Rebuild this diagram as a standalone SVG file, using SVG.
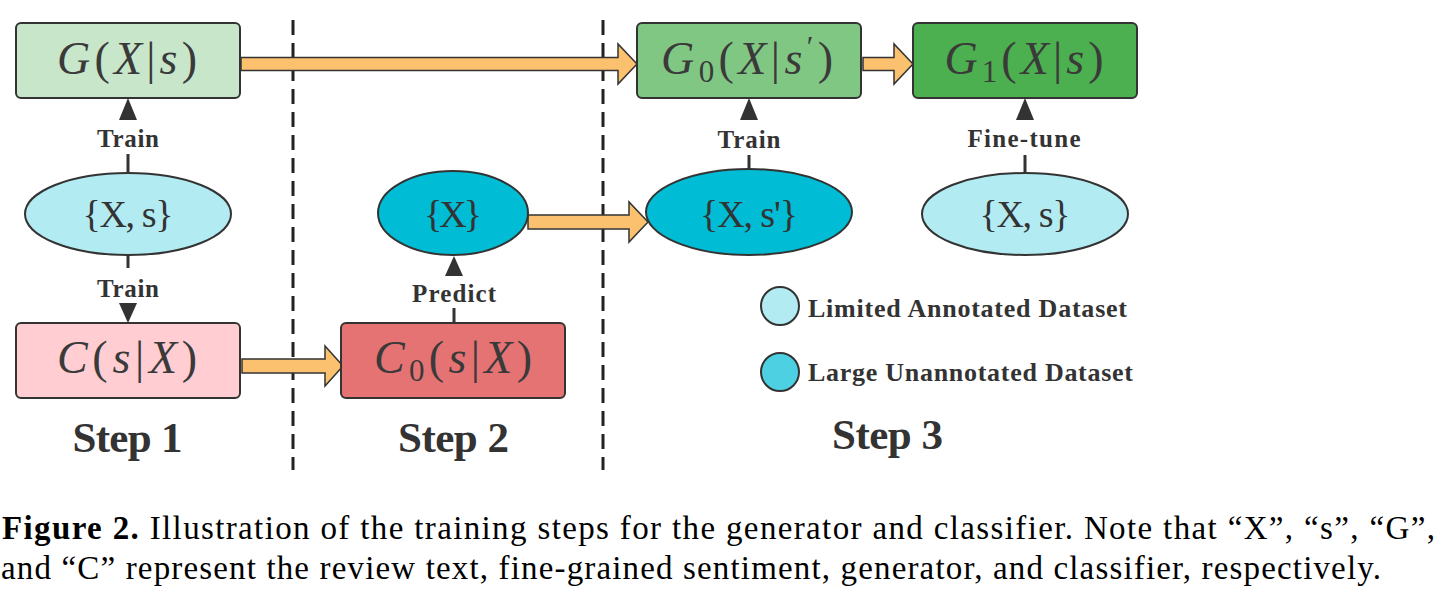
<svg xmlns="http://www.w3.org/2000/svg" width="1450" height="598" viewBox="0 0 1450 598">
<style>
.box{stroke:#333;stroke-width:2}
.ell{stroke:#333;stroke-width:2}
.math{font-family:"Liberation Serif",serif;font-size:46px;fill:#3a3a3a}
.it{font-style:italic}
.set{font-family:"Liberation Serif",serif;font-size:38px;fill:#333}
.lbl{font-family:"Liberation Serif",serif;font-size:25px;font-weight:bold;fill:#333}
.leg{font-family:"Liberation Serif",serif;font-size:26px;font-weight:bold;fill:#333}
.step{font-family:"Liberation Serif",serif;font-size:43px;font-weight:bold;fill:#333}
.cap{font-family:"Liberation Serif",serif;font-size:33px;fill:#000}
.fat{fill:#fbc16e;stroke:#333;stroke-width:1.5;stroke-linejoin:miter}
.ln{stroke:#333;stroke-width:3}
.tri{fill:#333}
.dash{stroke:#222;stroke-width:3;stroke-dasharray:15 8}
</style>
<rect width="1450" height="598" fill="#fff"/>
<g id="dividers">
<line class="dash" x1="293" y1="20" x2="293" y2="470"/>
<line class="dash" x1="603" y1="20" x2="603" y2="470"/>
</g>
<g id="connectors">
<path class="fat" d="M241,57.5 H618 V44 L637,64 L618,84 V70.5 H241 Z"/>
<path class="fat" d="M863,57.5 H894 V44 L913,64 L894,84 V70.5 H863 Z"/>
<path class="fat" d="M242,359 H325 V346 L343,366 L325,386 V373 H242 Z"/>
<path class="fat" d="M528,215 H629 V202 L648,222 L629,242 V229 H528 Z"/>
<line class="ln" x1="128" y1="172" x2="128" y2="154"/>
<polygon class="tri" points="128,98 119,120 137,120"/>
<line class="ln" x1="128" y1="255" x2="128" y2="268"/>
<polygon class="tri" points="128,323 119,303 137,303"/>
<line class="ln" x1="454" y1="323" x2="454" y2="308"/>
<polygon class="tri" points="454,256 445,276 463,276"/>
<line class="ln" x1="749" y1="169" x2="749" y2="155"/>
<polygon class="tri" points="749,98 740,120 758,120"/>
<line class="ln" x1="1025" y1="173" x2="1025" y2="155"/>
<polygon class="tri" points="1025,98 1016,120 1034,120"/>
<text class="lbl" x="128" y="147" text-anchor="middle" textLength="62" lengthAdjust="spacing">Train</text>
<text class="lbl" x="128" y="297" text-anchor="middle" textLength="62" lengthAdjust="spacing">Train</text>
<text class="lbl" x="454" y="302" text-anchor="middle" textLength="84" lengthAdjust="spacing">Predict</text>
<text class="lbl" x="749" y="148" text-anchor="middle" textLength="63" lengthAdjust="spacing">Train</text>
<text class="lbl" x="1024" y="147" text-anchor="middle" textLength="113" lengthAdjust="spacing">Fine-tune</text>
</g>
<g id="G">
<rect class="box" x="16" y="23" width="224" height="75" rx="5" fill="#c8e6c9"/>
<text class="math" x="127" y="74" text-anchor="middle" textLength="140" lengthAdjust="spacing"><tspan class="it">G</tspan>(<tspan class="it">X</tspan>|<tspan class="it">s</tspan>)</text>
</g>
<g id="G0">
<rect class="box" x="637" y="23" width="224" height="75" rx="5" fill="#81c784"/>
<text class="math" x="747" y="74" text-anchor="middle" textLength="172" lengthAdjust="spacing"><tspan class="it">G</tspan><tspan font-size="31" dy="8">0</tspan><tspan dy="-8">(</tspan><tspan class="it">X</tspan>|<tspan class="it">s</tspan><tspan font-size="30" dy="-18">′</tspan><tspan dy="18">)</tspan></text>
</g>
<g id="G1">
<rect class="box" x="913" y="23" width="224" height="75" rx="5" fill="#4caf50"/>
<text class="math" x="1024" y="74" text-anchor="middle" textLength="159" lengthAdjust="spacing"><tspan class="it">G</tspan><tspan font-size="31" dy="8">1</tspan><tspan dy="-8">(</tspan><tspan class="it">X</tspan>|<tspan class="it">s</tspan>)</text>
</g>
<g id="C">
<rect class="box" x="16" y="323" width="224" height="75" rx="5" fill="#ffcdd2"/>
<text class="math" x="127" y="373" text-anchor="middle" textLength="140" lengthAdjust="spacing"><tspan class="it">C</tspan>(<tspan class="it">s</tspan>|<tspan class="it">X</tspan>)</text>
</g>
<g id="C0">
<rect class="box" x="341" y="323" width="224" height="75" rx="5" fill="#e57373"/>
<text class="math" x="453" y="373" text-anchor="middle" textLength="158" lengthAdjust="spacing"><tspan class="it">C</tspan><tspan font-size="31" dy="8">0</tspan><tspan dy="-8">(</tspan><tspan class="it">s</tspan>|<tspan class="it">X</tspan>)</text>
</g>
<g id="D1">
<ellipse class="ell" cx="128" cy="214" rx="103" ry="41" fill="#b2ebf2"/>
<text class="set" x="128" y="227" text-anchor="middle" textLength="91" lengthAdjust="spacing">{X, s}</text>
</g>
<g id="DX">
<ellipse class="ell" cx="453" cy="213" rx="75" ry="42" fill="#00bcd4"/>
<text class="set" x="453" y="227" text-anchor="middle" textLength="58" lengthAdjust="spacing">{X}</text>
</g>
<g id="DXs2">
<ellipse class="ell" cx="749" cy="212" rx="103" ry="43" fill="#00bcd4"/>
<text class="set" x="749" y="227" text-anchor="middle" textLength="98" lengthAdjust="spacing">{X, s'}</text>
</g>
<g id="D3">
<ellipse class="ell" cx="1025" cy="214" rx="103" ry="41" fill="#b2ebf2"/>
<text class="set" x="1025" y="227" text-anchor="middle" textLength="91" lengthAdjust="spacing">{X, s}</text>
</g>
<g id="legend">
<circle class="ell" cx="780" cy="306" r="19" fill="#b2ebf2"/>
<circle class="ell" cx="780" cy="372" r="19" fill="#4dd0e1"/>
<text class="leg" x="808" y="317" textLength="319" lengthAdjust="spacing">Limited Annotated Dataset</text>
<text class="leg" x="808" y="381" textLength="325" lengthAdjust="spacing">Large Unannotated Dataset</text>
</g>
<g id="steps">
<text class="step" x="127.5" y="452" text-anchor="middle" textLength="110" lengthAdjust="spacing">Step 1</text>
<text class="step" x="453.5" y="452" text-anchor="middle" textLength="111" lengthAdjust="spacing">Step 2</text>
<text class="step" x="887.5" y="449" text-anchor="middle" textLength="111" lengthAdjust="spacing">Step 3</text>
</g>
<g id="caption">
<text class="cap" x="2" y="539" textLength="1433" lengthAdjust="spacing"><tspan font-weight="bold">Figure 2.</tspan> Illustration of the training steps for the generator and classifier. Note that “X”, “s”, “G”,</text>
<text class="cap" x="1" y="579" textLength="1380" lengthAdjust="spacing">and “C” represent the review text, fine-grained sentiment, generator, and classifier, respectively.</text>
</g>
</svg>
